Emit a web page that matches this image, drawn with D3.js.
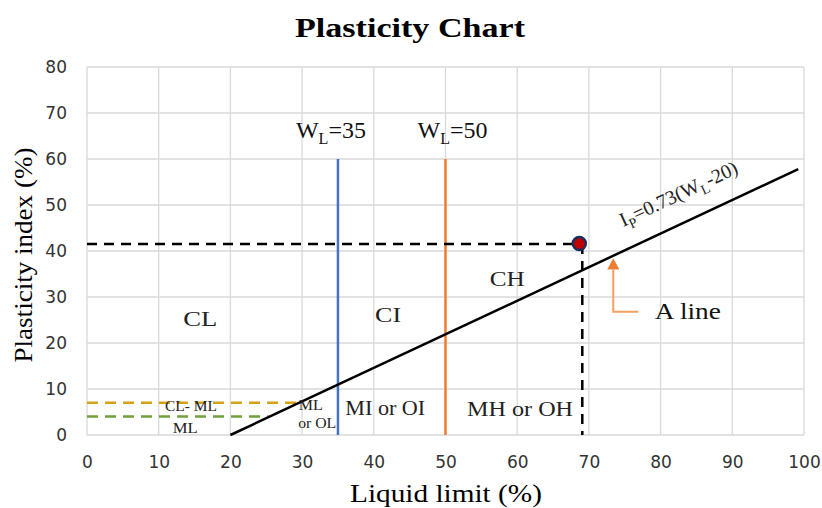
<!DOCTYPE html>
<html><head><meta charset="utf-8">
<script src="https://cdn.jsdelivr.net/npm/d3@7"></script>
<style>body{margin:0;background:#fff;} svg{display:block;}</style>
</head><body>
<svg id="chart" width="822" height="508"></svg>
<script>
const xTicks = [0,10,20,30,40,50,60,70,80,90,100];
const yTicks = [0,10,20,30,40,50,60,70,80];
const aLine = [[20,0],[99.2,57.8]];
const wlLines = [{x:35, top:60, color:"#4472c4"},{x:50, top:60, color:"#ed7d31"}];
const clmlLines = [{y:7, x2:29.6, color:"#d4a017"},{y:4, x2:25.3, color:"#70a03c"}];
const samplePoint = {x:68.8, y:41.5};
const zoneLabels = [
  {t:"CL", x:15.8, y:23.7, s:22, w:34},
  {t:"CI", x:42.0, y:24.5, s:22, w:26},
  {t:"CH", x:58.6, y:32.4, s:22, w:35},
  {t:"MI or OI", x:41.6, y:4.4, s:20, w:80},
  {t:"MH or OH", x:60.4, y:4.2, s:20, w:106},
  {t:"CL- ML", x:14.5, y:5.3, s:14, w:52},
  {t:"ML", x:13.7, y:0.5, s:14, w:25},
  {t:"ML", x:31.2, y:5.4, s:14, w:24},
  {t:"or OL", x:32.1, y:1.5, s:14, w:38}
];

const svg = d3.select("#chart");
const x = d3.scaleLinear().domain([0,100]).range([87,804]);
const y = d3.scaleLinear().domain([0,80]).range([435,67]);

// grid
svg.append("g").selectAll("line").data(xTicks).join("line")
  .attr("x1",d=>x(d)).attr("x2",d=>x(d)).attr("y1",y(0)).attr("y2",y(80))
  .attr("stroke","#d9d9d9").attr("stroke-width",1.3);
svg.append("g").selectAll("line").data(yTicks).join("line")
  .attr("x1",x(0)).attr("x2",x(100)).attr("y1",d=>y(d)).attr("y2",d=>y(d))
  .attr("stroke","#d9d9d9").attr("stroke-width",1.3);

// axes tick labels
const xa = svg.append("g").attr("transform",`translate(0,${y(0)})`)
  .call(d3.axisBottom(x).tickValues(xTicks).tickSize(0).tickPadding(21));
xa.select(".domain").remove();
xa.selectAll("text").attr("font-family","DejaVu Sans").attr("font-size",17).attr("fill","#333");
const ya = svg.append("g").attr("transform",`translate(${x(0)},0)`)
  .call(d3.axisLeft(y).tickValues(yTicks).tickSize(0).tickPadding(20));
ya.select(".domain").remove();
ya.selectAll("text").attr("font-family","DejaVu Sans").attr("font-size",17).attr("fill","#333");

// title and axis titles
svg.append("text").attr("x",410).attr("y",37).attr("text-anchor","middle")
  .attr("font-family","Liberation Serif").attr("font-weight","bold").attr("font-size",28)
  .attr("textLength",230).attr("lengthAdjust","spacingAndGlyphs").text("Plasticity Chart");
svg.append("text").attr("x",446).attr("y",502).attr("text-anchor","middle")
  .attr("font-family","Liberation Serif").attr("font-size",25)
  .attr("textLength",192).attr("lengthAdjust","spacingAndGlyphs").text("Liquid limit (%)");
svg.append("text").attr("transform",`translate(32,255) rotate(-90)`).attr("text-anchor","middle")
  .attr("font-family","Liberation Serif").attr("font-size",26)
  .attr("textLength",215).attr("lengthAdjust","spacingAndGlyphs").text("Plasticity index (%)");

// CL-ML dashed lines
svg.append("g").selectAll("line").data(clmlLines).join("line")
  .attr("x1",x(0)).attr("x2",d=>x(d.x2)).attr("y1",d=>y(d.y)).attr("y2",d=>y(d.y))
  .attr("stroke",d=>d.color).attr("stroke-width",2.5).attr("stroke-dasharray","11,7");

// WL lines
svg.append("g").selectAll("line").data(wlLines).join("line")
  .attr("x1",d=>x(d.x)).attr("x2",d=>x(d.x)).attr("y1",y(0)).attr("y2",d=>y(d.top))
  .attr("stroke",d=>d.color).attr("stroke-width",2.5);
wlLines.forEach((d,i)=>{
  const t = svg.append("text").attr("x",x(d.x)-(i===0?42:28)).attr("y",y(d.top)-21)
    .attr("font-family","Liberation Serif").attr("font-size",24).attr("fill","#111");
  t.append("tspan").text("W");
  t.append("tspan").attr("font-size",16).attr("dy",6).text("L");
  t.append("tspan").attr("dy",-6).text("="+d.x);
});

// A line
const line = d3.line().x(d=>x(d[0])).y(d=>y(d[1]));
svg.append("path").datum(aLine).attr("d",line).attr("fill","none").attr("stroke","#000").attr("stroke-width",2.5);

// sample point dashed guides
svg.append("line").attr("x1",x(0)).attr("x2",x(samplePoint.x)).attr("y1",y(samplePoint.y)).attr("y2",y(samplePoint.y))
  .attr("stroke","#000").attr("stroke-width",2.5).attr("stroke-dasharray","10,7");
svg.append("line").attr("x1",x(samplePoint.x)+2).attr("x2",x(samplePoint.x)+2).attr("y1",y(samplePoint.y)).attr("y2",y(0))
  .attr("stroke","#000").attr("stroke-width",2.5).attr("stroke-dasharray","10,7");
svg.append("circle").attr("cx",x(samplePoint.x)-1).attr("cy",y(samplePoint.y)-0.5).attr("r",6.5)
  .attr("fill","#c00000").attr("stroke","#1f2d5c").attr("stroke-width",2.5);

// zone labels
svg.append("g").selectAll("text").data(zoneLabels).join("text")
  .attr("x",d=>x(d.x)).attr("y",d=>y(d.y)).attr("text-anchor","middle")
  .attr("font-family","Liberation Serif").attr("font-size",d=>d.s).attr("fill","#222")
  .attr("textLength",d=>d.w).attr("lengthAdjust","spacingAndGlyphs").text(d=>d.t);

// A line equation label (rotated)
const ang = Math.atan2(y(aLine[1][1])-y(aLine[0][1]), x(aLine[1][0])-x(aLine[0][0]))*180/Math.PI;
const lx = x(74.8), ly = y(45.2);
const eq = svg.append("text").attr("transform",`translate(${lx},${ly}) rotate(${ang})`)
  .attr("font-family","Liberation Serif").attr("font-size",20).attr("fill","#222");
eq.append("tspan").text("I");
eq.append("tspan").attr("font-size",14).attr("dy",5).text("P");
eq.append("tspan").attr("dy",-5).text("=0.73(W");
eq.append("tspan").attr("font-size",14).attr("dy",5).text("L");
eq.append("tspan").attr("dy",-5).text("-20)");

// A line arrow
const ax = x(73.4);
svg.append("path").attr("d",`M${ax+25},${y(26.8)} L${ax},${y(26.8)} L${ax},${y(36.0)}`)
  .attr("fill","none").attr("stroke","#f4a060").attr("stroke-width",2);
svg.append("path").attr("d",`M${ax-6},${y(36.0)} L${ax+6},${y(36.0)} L${ax},${y(38.4)} Z`).attr("fill","#ed7d31");
svg.append("text").attr("x",x(79.2)).attr("y",y(26.8)+7).attr("font-family","Liberation Serif").attr("font-size",24).attr("fill","#111")
  .attr("textLength",66).attr("lengthAdjust","spacingAndGlyphs").text("A line");
</script>
</body></html>
